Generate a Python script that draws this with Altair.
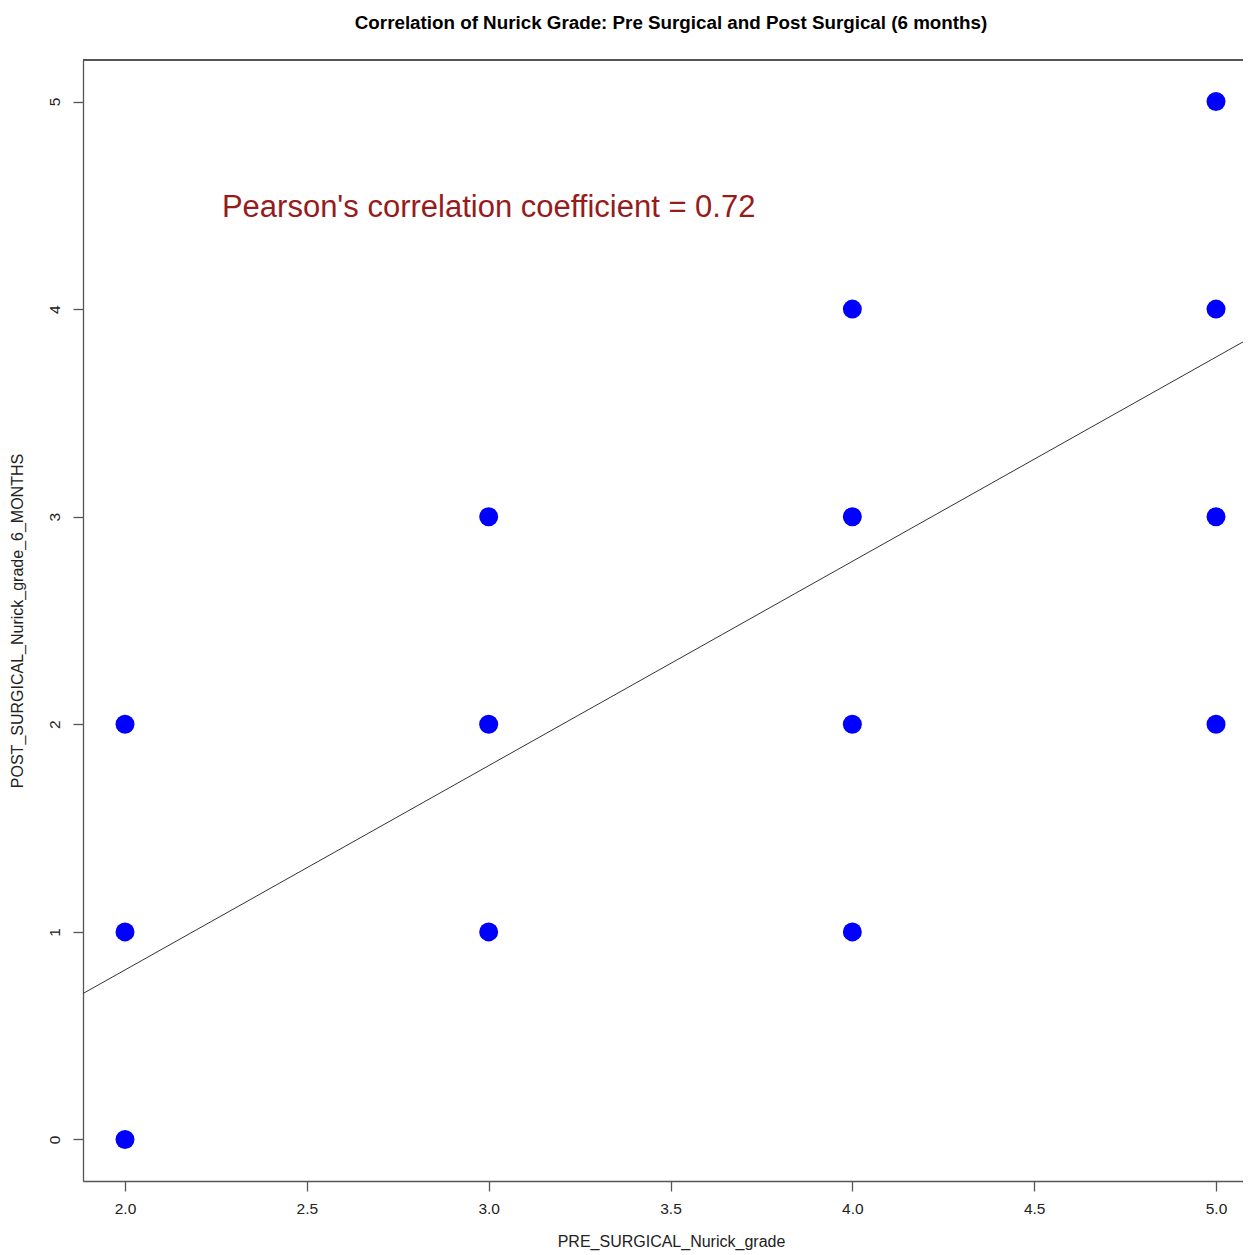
import altair as alt
import pandas as pd

# Data
pre_grade = [2, 2, 2, 3, 3, 3, 4, 4, 4, 4, 5, 5, 5, 5]
post_grade = [0, 1, 2, 1, 2, 3, 1, 2, 3, 4, 2, 3, 4, 5]

# Fitted line end points (at the plot edges)
line_x = [1.8845, 5.0742]
line_y = [0.703, 3.842]

x_ticks = [2.0, 2.5, 3.0, 3.5, 4.0, 4.5, 5.0]
y_ticks = [0, 1, 2, 3, 4, 5]

note_x = [3.0]
note_y = [4.485]
note_text = ["Pearson's correlation coefficient = 0.72"]

title_text = "Correlation of Nurick Grade: Pre Surgical and Post Surgical (6 months)"
x_title = "PRE_SURGICAL_Nurick_grade"
y_title = "POST_SURGICAL_Nurick_grade_6_MONTHS"

W, H = 1160, 1121
FONT = "Liberation Sans"

pts = pd.DataFrame({"pre": pre_grade, "post": post_grade})
line_df = pd.DataFrame({"pre": line_x, "post": line_y})
note_df = pd.DataFrame({"pre": note_x, "post": note_y, "label": note_text})

x_scale = alt.Scale(domain=[1.8845, 5.0742], nice=False, zero=False)
y_scale = alt.Scale(domain=[-0.2, 5.2], nice=False, zero=False)

x_axis = alt.Axis(
    values=x_ticks, format=".1f", grid=False,
    domainColor="#555555", domainWidth=1.3,
    tickColor="#555555", tickWidth=1.3, tickSize=10,
    labelFont=FONT, labelFontSize=15.5, labelColor="#222222", labelPadding=10,
    title=x_title, titleFont=FONT, titleFontSize=16, titleFontWeight="normal",
    titleColor="#222222", titleBaseline="middle", titleAlign="center",
    titleX=W / 2 + 8, titleY=60,
)
y_axis = alt.Axis(
    values=y_ticks, format="d", grid=False,
    domainColor="#555555", domainWidth=1.3,
    tickColor="#555555", tickWidth=1.3, tickSize=10,
    labelFont=FONT, labelFontSize=15.5, labelColor="#222222", labelPadding=11,
    labelAngle=270, labelAlign="center", labelBaseline="bottom",
    title=y_title, titleFont=FONT, titleFontSize=16, titleFontWeight="normal",
    titleColor="#222222", titleAngle=270, titleBaseline="middle", titleAlign="center",
    titleX=-66, titleY=H / 2,
)

points = alt.Chart(pts).mark_circle(size=360, color="#0000FF", opacity=1).encode(
    x=alt.X("pre:Q", scale=x_scale, axis=x_axis),
    y=alt.Y("post:Q", scale=y_scale, axis=y_axis),
)

fit = alt.Chart(line_df).mark_line(color="#333333", strokeWidth=1).encode(
    x=alt.X("pre:Q", scale=x_scale),
    y=alt.Y("post:Q", scale=y_scale),
)

note = alt.Chart(note_df).mark_text(
    font=FONT, fontSize=31, color="#961C1C", align="center", baseline="middle"
).encode(
    x=alt.X("pre:Q", scale=x_scale),
    y=alt.Y("post:Q", scale=y_scale),
    text="label:N",
)

top_border = alt.Chart(pts).mark_rule(color="#555555", strokeWidth=1.3).encode(
    x=alt.value(0), x2=alt.value(W), y=alt.value(0)
)

chart = alt.layer(fit, points, note, top_border).properties(
    width=W, height=H,
    title=alt.TitleParams(
        text=title_text, font=FONT, fontSize=18.8, fontWeight="bold",
        color="#000000", anchor="middle", dx=8, offset=27,
    ),
    autosize=alt.AutoSizeParams(type="none"),
    padding={"left": 75, "top": 52, "right": 0, "bottom": 70},
).configure_view(stroke=None).configure(background="white")

chart.save("out.html", embed_options={"renderer": "svg", "actions": False})
